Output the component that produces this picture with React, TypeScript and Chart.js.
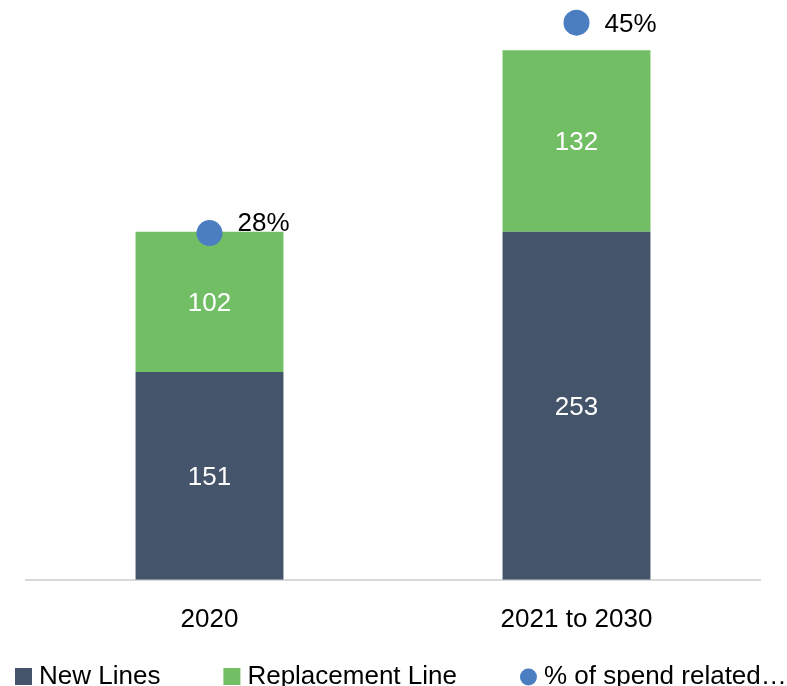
import React, { useEffect, useRef } from "react";
import { Chart, registerables } from "chart.js";

Chart.register(...registerables);

const categories = ["2020", "2021 to 2030"];
const newLines = [151, 253];
const replacementLine = [102, 132];
const spendShare = [28, 45];
const seriesNames = ["New Lines", "Replacement Line", "% of spend related\u2026"];

const COLORS = {
  newLines: "#44546A",
  replacement: "#71BE64",
  dot: "#4A7EC1",
  axis: "#D9D9D9",
  text: "#000000",
};
const FONT = "Liberation Sans, Arial, sans-serif";
const FONT_SIZE = 26;
// vertical nudge of the percentage labels (px), as placed in the original
const pctLabelNudge = [-11.6, 0];

const labelsPlugin = {
  id: "valueLabels",
  afterDatasetsDraw(chart: any) {
    const ctx = chart.ctx;
    ctx.save();
    ctx.font = `${FONT_SIZE}px ${FONT}`;
    ctx.textBaseline = "alphabetic";
    const capHalf = FONT_SIZE * 0.716 / 2;
    [0, 1].forEach((di) => {
      const meta = chart.getDatasetMeta(di);
      meta.data.forEach((el: any, j: number) => {
        const v = chart.data.datasets[di].data[j];
        const cy = (el.y + el.base) / 2;
        ctx.fillStyle = "#FFFFFF";
        ctx.textAlign = "center";
        ctx.fillText(String(v), el.x, cy + capHalf);
      });
    });
    const pm = chart.getDatasetMeta(2);
    pm.data.forEach((el: any, j: number) => {
      const v = chart.data.datasets[2].data[j];
      ctx.fillStyle = COLORS.text;
      ctx.textAlign = "left";
      ctx.fillText(`${v}%`, el.x + 28, el.y + capHalf + pctLabelNudge[j]);
    });
    ctx.restore();
  },
};

const legendPlugin = {
  id: "bottomLegend",
  afterDraw(chart: any) {
    const ctx = chart.ctx;
    ctx.save();
    ctx.font = `${FONT_SIZE}px ${FONT}`;
    ctx.textBaseline = "alphabetic";
    ctx.textAlign = "left";
    const baseline = 684;
    const marker = 17;
    let x = 15;
    chart.data.datasets.forEach((ds: any, i: number) => {
      ctx.fillStyle = ds.legendColor;
      if (i === 2) {
        ctx.beginPath();
        ctx.arc(x + marker / 2, baseline - 7, marker / 2, 0, Math.PI * 2);
        ctx.fill();
      } else {
        ctx.fillRect(x, baseline - marker + 1, marker, marker);
      }
      const tx = x + marker + 7;
      ctx.fillStyle = COLORS.text;
      ctx.fillText(ds.label, tx, baseline);
      const w = ctx.measureText(ds.label).width;
      x = tx + w + 63;
    });
    ctx.restore();
  },
};

export default function App() {
  const ref = useRef<HTMLCanvasElement | null>(null);
  useEffect(() => {
    document.body.style.margin = "0";
    if (!ref.current) return;
    const chart = new Chart(ref.current, {
      type: "bar",
      data: {
        labels: categories,
        datasets: [
          {
            type: "bar",
            label: seriesNames[0],
            data: newLines,
            backgroundColor: COLORS.newLines,
            legendColor: COLORS.newLines,
            stack: "s",
            yAxisID: "y",
            order: 2,
          } as any,
          {
            type: "bar",
            label: seriesNames[1],
            data: replacementLine,
            backgroundColor: COLORS.replacement,
            legendColor: COLORS.replacement,
            stack: "s",
            yAxisID: "y",
            order: 2,
          } as any,
          {
            type: "line",
            label: seriesNames[2],
            data: spendShare,
            showLine: false,
            pointRadius: 13,
            pointHoverRadius: 13,
            pointBackgroundColor: COLORS.dot,
            pointBorderWidth: 0,
            borderColor: COLORS.dot,
            backgroundColor: COLORS.dot,
            legendColor: COLORS.dot,
            yAxisID: "y2",
            order: 1,
            clip: false,
          } as any,
        ],
      },
      options: {
        responsive: false,
        animation: false,
        events: [],
        layout: { autoPadding: false, padding: { top: 2, left: 26, right: 27, bottom: 27 } },
        datasets: {
          bar: { categoryPercentage: 1, barPercentage: 0.403 },
        } as any,
        plugins: {
          legend: { display: false },
          tooltip: { enabled: false },
        },
        scales: {
          x: {
            stacked: true,
            grid: { display: false, drawTicks: false },
            border: { display: true, color: COLORS.axis, width: 2 },
            ticks: {
              color: COLORS.text,
              font: { family: FONT, size: FONT_SIZE },
              padding: 24,
            },
          },
          y: {
            stacked: true,
            display: false,
            min: 0,
            max: 420,
          },
          y2: {
            display: false,
            min: 0,
            max: 420 / 9,
          },
        },
      },
      plugins: [labelsPlugin, legendPlugin],
    });
    return () => chart.destroy();
  }, []);
  return (
    <div style={{ width: 787, height: 686 }}>
      <canvas ref={ref} width={787} height={686} />
    </div>
  );
}
